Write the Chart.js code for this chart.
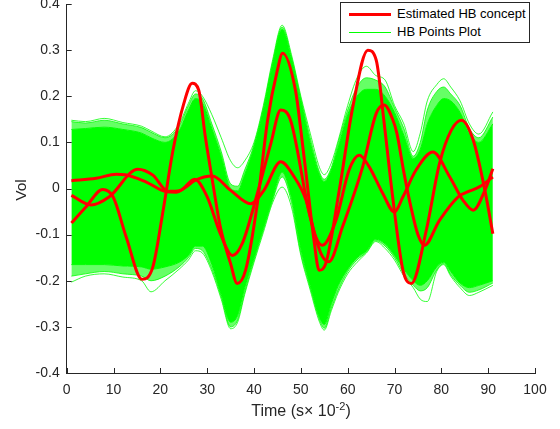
<!DOCTYPE html>
<html>
<head>
<meta charset="utf-8">
<script src="https://cdn.jsdelivr.net/npm/chart.js@4.4.1/dist/chart.umd.min.js"></script>
<style>
html,body{margin:0;padding:0;background:#fff;}
#wrap{position:relative;width:560px;height:429px;font-family:"Liberation Sans",Arial,Helvetica,sans-serif;overflow:hidden;}
#c{position:absolute;left:0;top:0;}
#legend{position:absolute;left:340px;top:2px;width:188px;height:39px;border:1px solid #262626;background:#fff;}
.row{position:absolute;left:0;height:16px;width:188px;font-size:13px;line-height:16px;color:#000;}
.sw{position:absolute;left:8px;width:42px;}
.lbl{position:absolute;left:56px;top:0;white-space:nowrap;}
#xt{position:absolute;left:181px;top:401px;width:240px;text-align:center;font-size:16px;line-height:20px;color:#262626;white-space:nowrap;}
#xt sup{font-size:11px;vertical-align:6px;line-height:0;}
#yt{position:absolute;left:-9px;top:180px;width:60px;height:20px;text-align:center;font-size:15.5px;line-height:20px;color:#262626;transform:rotate(-90deg);}
</style>
</head>
<body>
<div id="wrap">
<canvas id="c" width="560" height="429"></canvas>
<div id="legend">
  <div class="row" style="top:3px"><div class="sw" style="top:7px;border-top:3px solid #ff0000;"></div><span class="lbl">Estimated HB concept</span></div>
  <div class="row" style="top:21px"><div class="sw" style="top:8px;border-top:1px solid #00ff00;"></div><span class="lbl">HB Points Plot</span></div>
</div>
<div id="xt">Time (s× 10<sup>-2</sup>)</div>
<div id="yt">Vol</div>
</div>
<script>
// ---- green band (HB points) envelopes ----
const envT = [1, 4, 8, 12, 16, 18, 21, 24, 26, 27.5, 29, 31, 33, 35, 36.5, 38, 40, 42, 44, 46, 48, 50, 52, 54, 55, 56.5, 58, 60, 62, 64, 66, 68, 70, 72, 74, 75.5, 77, 79, 80.5, 82, 84, 86, 88, 91];
const upperOuter = [0.148, 0.145, 0.152, 0.143, 0.135, 0.125, 0.112, 0.14, 0.185, 0.212, 0.2, 0.16, 0.11, 0.06, 0.045, 0.06, 0.1, 0.18, 0.28, 0.354, 0.29, 0.2, 0.12, 0.045, 0.03, 0.055, 0.105, 0.18, 0.24, 0.265, 0.245, 0.235, 0.18, 0.14, 0.08, 0.12, 0.19, 0.225, 0.238, 0.22, 0.19, 0.14, 0.118, 0.166];
const upperFringe = [0.145, 0.142, 0.148, 0.14, 0.132, 0.122, 0.11, 0.135, 0.18, 0.205, 0.195, 0.14, 0.08, 0.01, 0.005, 0.04, 0.095, 0.175, 0.275, 0.35, 0.285, 0.195, 0.11, 0.035, 0.02, 0.045, 0.1, 0.17, 0.22, 0.24, 0.235, 0.22, 0.175, 0.13, 0.07, 0.1, 0.17, 0.21, 0.22, 0.205, 0.18, 0.13, 0.11, 0.155];
const upperDense = [0.128, 0.13, 0.133, 0.128, 0.12, 0.11, 0.10, 0.125, 0.17, 0.195, 0.185, 0.13, 0.07, 0.0, -0.005, 0.03, 0.09, 0.17, 0.27, 0.345, 0.28, 0.19, 0.10, 0.03, 0.015, 0.04, 0.09, 0.16, 0.2, 0.215, 0.215, 0.2, 0.165, 0.115, 0.065, 0.085, 0.14, 0.18, 0.195, 0.19, 0.165, 0.12, 0.1, 0.14];
const lowerDense = [-0.165, -0.165, -0.165, -0.168, -0.17, -0.175, -0.17, -0.16, -0.145, -0.125, -0.125, -0.165, -0.23, -0.29, -0.275, -0.215, -0.15, -0.085, -0.02, 0.035, -0.02, -0.13, -0.21, -0.28, -0.295, -0.25, -0.21, -0.175, -0.15, -0.135, -0.11, -0.12, -0.145, -0.175, -0.2, -0.21, -0.2, -0.17, -0.16, -0.18, -0.205, -0.215, -0.21, -0.2];
const lowerFringe = [-0.19, -0.185, -0.18, -0.185, -0.19, -0.2, -0.19, -0.17, -0.15, -0.13, -0.135, -0.175, -0.235, -0.3, -0.285, -0.225, -0.155, -0.09, -0.025, 0.025, -0.03, -0.14, -0.215, -0.285, -0.303, -0.26, -0.22, -0.18, -0.155, -0.138, -0.113, -0.125, -0.15, -0.185, -0.21, -0.222, -0.215, -0.177, -0.163, -0.187, -0.21, -0.225, -0.22, -0.205];
const lowerOuter = [-0.203, -0.19, -0.185, -0.192, -0.2, -0.224, -0.2, -0.175, -0.155, -0.135, -0.14, -0.18, -0.24, -0.304, -0.29, -0.23, -0.16, -0.095, -0.03, 0.003, -0.04, -0.145, -0.22, -0.29, -0.307, -0.265, -0.225, -0.185, -0.16, -0.14, -0.115, -0.13, -0.155, -0.19, -0.215, -0.24, -0.245, -0.18, -0.165, -0.19, -0.215, -0.232, -0.225, -0.21];

// ---- red "Estimated HB concept" curves ----
const tA = [1, 4.1, 7.7, 9.9, 12.7, 16.1, 18.4, 20.6, 22.7, 25, 26.8, 28.2, 29.6, 31.1, 32.8, 35, 36.4, 38.2, 40.7, 42.9, 45, 46.1, 48.9, 50, 51.1, 52.8, 53.9, 55.3, 58.2, 61.1, 64.3, 66.1, 67.8, 69.6, 71.8, 73.6, 76.8, 79.6, 82.1, 84.3, 86.8, 89.3, 91];
const vA = [-0.075, -0.04, -0.002, -0.018, -0.105, -0.197, -0.17, -0.047, 0.083, 0.184, 0.228, 0.213, 0.112, 0.018, -0.083, -0.163, -0.206, -0.177, -0.033, 0.148, 0.257, 0.293, 0.21, 0.126, 0.033, -0.112, -0.177, -0.163, -0.004, 0.177, 0.30, 0.278, 0.141, -0.018, -0.177, -0.206, -0.09, 0.054, 0.126, 0.148, 0.105, -0.004, -0.098];
const tQ = [1, 5.2, 9.1, 15.2, 18.4, 21.6, 24.3, 27.3, 30, 32.8, 35.4, 37.5, 40.7, 43.6, 45.7, 47.8, 51.8, 54.3, 56, 58.9, 63.2, 66.1, 67.8, 69.6, 70.5, 72, 73.5, 75, 76.4, 79.6, 83.6, 85.7, 88.2, 91];
const vQ = [-0.015, -0.036, -0.018, 0.042, 0.029, -0.006, -0.004, 0.02, -0.018, -0.098, -0.145, -0.119, -0.011, 0.098, 0.17, 0.148, -0.054, -0.141, -0.159, -0.083, 0.047, 0.163, 0.181, 0.15, 0.12, 0.035, -0.04, -0.1, -0.123, -0.069, -0.018, -0.007, 0.004, 0.025];
const tP = [1, 6.3, 10.6, 12.5, 17, 21.3, 23.4, 25, 27.5, 31.1, 35, 39.3, 42.1, 45.7, 48.6, 51.1, 53.2, 54.6, 57.5, 60.3, 62.5, 64.6, 67.5, 70, 71.8, 74.6, 78.2, 81.8, 84.6, 86.8, 89.3, 91];
const vP = [0.017, 0.022, 0.031, 0.03, 0.014, -0.007, -0.008, 0.0, 0.018, 0.027, -0.004, -0.033, -0.004, 0.058, 0.025, -0.025, -0.105, -0.123, -0.069, 0.04, 0.072, 0.047, -0.011, -0.051, -0.018, 0.04, 0.079, 0.025, -0.025, -0.047, -0.004, 0.043];

const xTicksMin = 0, xTicksMax = 100, xStep = 10;
const yTicksMin = -0.4, yTicksMax = 0.4, yStep = 0.1;

const pts = (ts, vs) => ts.map((t, i) => ({x: t, y: vs[i]}));
const FONT = '"Liberation Sans", Arial, Helvetica, sans-serif';
const RED = '#ff0000', GREEN = '#00ff00', LIGHT = 'rgba(0,255,0,0.6)', AX = '#262626';

const redDs = (ts, vs) => ({data: pts(ts, vs), borderColor: RED, borderWidth: 3, fill: false, order: 0,
  cubicInterpolationMode: 'monotone', pointRadius: 0});
const greenDs = (vs, extra) => Object.assign({data: pts(envT, vs), borderColor: GREEN, borderWidth: 0.8,
  fill: false, order: 1, cubicInterpolationMode: 'monotone', pointRadius: 0}, extra || {});

const insideTicks = {
  id: 'insideTicks',
  afterDraw(chart) {
    const {ctx, chartArea: a, scales: {x, y}} = chart;
    ctx.save();
    ctx.strokeStyle = AX; ctx.lineWidth = 1;
    ctx.beginPath();
    x.ticks.forEach(t => { const px = Math.round(x.getPixelForValue(t.value)) + 0.5; ctx.moveTo(px, a.bottom); ctx.lineTo(px, a.bottom - 5); });
    y.ticks.forEach(t => { const py = Math.round(y.getPixelForValue(t.value)) + 0.5; ctx.moveTo(a.left, py); ctx.lineTo(a.left + 5, py); });
    ctx.stroke();
    ctx.restore();
  }
};

new Chart(document.getElementById('c'), {
  type: 'line',
  data: {
    datasets: [
      redDs(tA, vA),
      redDs(tQ, vQ),
      redDs(tP, vP),
      greenDs(upperOuter),
      greenDs(upperFringe, {fill: '+1', backgroundColor: LIGHT}),
      greenDs(upperDense, {fill: '+1', backgroundColor: GREEN, borderWidth: 1}),
      greenDs(lowerDense, {fill: '+1', backgroundColor: LIGHT, borderWidth: 1}),
      greenDs(lowerFringe),
      greenDs(lowerOuter)
    ]
  },
  options: {
    responsive: false,
    animation: false,
    devicePixelRatio: 1,
    layout: {padding: {top: 4, right: 25, left: 0, bottom: 0}},
    plugins: {legend: {display: false}, tooltip: {enabled: false}},
    elements: {point: {radius: 0}},
    scales: {
      x: {
        type: 'linear', min: xTicksMin, max: xTicksMax,
        ticks: {stepSize: xStep, color: AX, font: {family: FONT, size: 14}, padding: 9, maxRotation: 0},
        grid: {drawOnChartArea: false, drawTicks: false},
        border: {display: true, color: AX, width: 1},
        afterFit(s) { s.height = 56; s.paddingLeft = 0; s.paddingRight = 0; }
      },
      y: {
        type: 'linear', min: yTicksMin, max: yTicksMax,
        ticks: {stepSize: yStep, color: AX, font: {family: FONT, size: 14}, padding: 7,
          callback: v => { const r = Math.round(v * 10) / 10; return r === 0 ? '0' : r.toFixed(1); }},
        grid: {drawOnChartArea: false, drawTicks: false},
        border: {display: true, color: AX, width: 1},
        afterFit(s) { s.width = 66.7; s.paddingTop = 0; s.paddingBottom = 0; }
      }
    }
  },
  plugins: [insideTicks]
});
</script>
</body>
</html>
